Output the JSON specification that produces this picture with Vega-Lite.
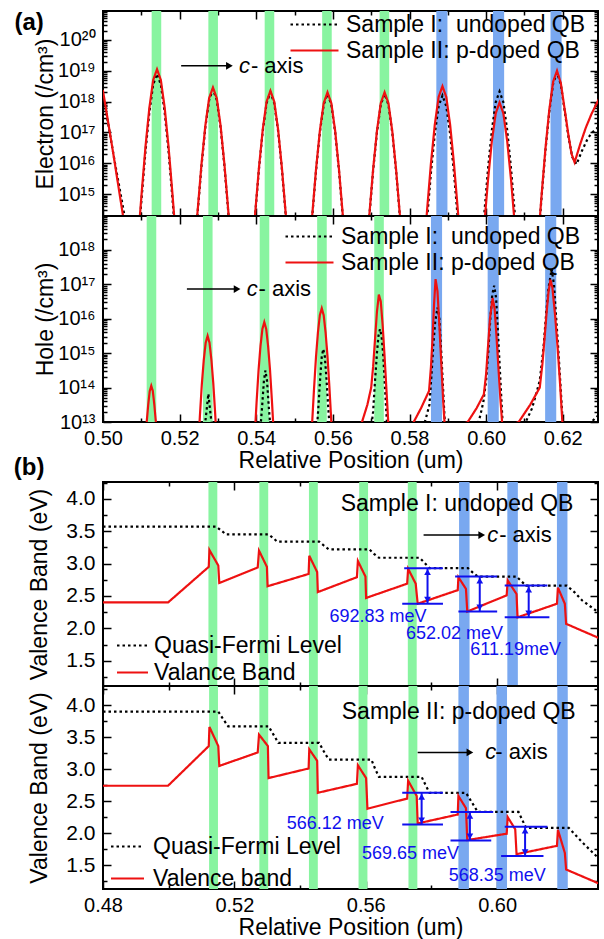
{
"$schema": "https://vega.github.io/schema/vega-lite/v6.json",
"padding": {"left": 12, "top": 9, "right": 2, "bottom": 0},
"config": {
  "font": "Liberation Sans",
  "view": {"stroke": "#000", "strokeWidth": 2},
  "axis": {"domain": false, "grid": false, "labelFont": "Liberation Sans", "labelFontSize": 20, "labelColor": "#000", "titleFont": "Liberation Sans", "titleFontSize": 23, "titleFontWeight": "normal", "titleColor": "#000", "tickColor": "#000", "tickWidth": 1.5, "labelFlush": false, "labelOverlap": false},
  "legend": {"labelFont": "Liberation Sans", "labelColor": "#000", "labelLimit": 400}
},
"datasets": {
  "bars": [
    {"p":"e","k":"g","x1":0.5127,"x2":0.5152},{"p":"e","k":"g","x1":0.5275,"x2":0.5300},{"p":"e","k":"g","x1":0.5422,"x2":0.5447},{"p":"e","k":"g","x1":0.5572,"x2":0.5597},{"p":"e","k":"g","x1":0.5722,"x2":0.5747},
    {"p":"e","k":"b","x1":0.5870,"x2":0.5899},{"p":"e","k":"b","x1":0.6018,"x2":0.6047},{"p":"e","k":"b","x1":0.6168,"x2":0.6197},
    {"p":"h","k":"g","x1":0.5114,"x2":0.5139},{"p":"h","k":"g","x1":0.5261,"x2":0.5286},{"p":"h","k":"g","x1":0.5409,"x2":0.5434},{"p":"h","k":"g","x1":0.5559,"x2":0.5584},{"p":"h","k":"g","x1":0.5708,"x2":0.5733},
    {"p":"h","k":"b","x1":0.5856,"x2":0.5885},{"p":"h","k":"b","x1":0.6004,"x2":0.6033},{"p":"h","k":"b","x1":0.6154,"x2":0.6183},
    {"p":"t","k":"g","x1":0.5121,"x2":0.5148},{"p":"t","k":"g","x1":0.5276,"x2":0.5303},{"p":"t","k":"g","x1":0.5427,"x2":0.5454},{"p":"t","k":"g","x1":0.5580,"x2":0.5607},{"p":"t","k":"g","x1":0.5728,"x2":0.5755},
    {"p":"t","k":"b","x1":0.5884,"x2":0.5916},{"p":"t","k":"b","x1":0.6031,"x2":0.6063},{"p":"t","k":"b","x1":0.6182,"x2":0.6214},
    {"p":"b","k":"g","x1":0.5123,"x2":0.5150},{"p":"b","k":"g","x1":0.5276,"x2":0.5303},{"p":"b","k":"g","x1":0.5427,"x2":0.5454},{"p":"b","k":"g","x1":0.5578,"x2":0.5605},{"p":"b","k":"g","x1":0.5730,"x2":0.5757},
    {"p":"b","k":"b","x1":0.5882,"x2":0.5914},{"p":"b","k":"b","x1":0.5998,"x2":0.6030},{"p":"b","k":"b","x1":0.6183,"x2":0.6215}
  ],
  "arrows": [
    {"p":"e","x1":0.5204,"x2":0.5330,"y":1.45e19},
    {"p":"h","x1":0.5219,"x2":0.5350,"y":7.24e16},
    {"p":"t","x1":0.5776,"x2":0.5953,"y":3.44},
    {"p":"b","x1":0.5758,"x2":0.5917,"y":3.26}
  ],
  "txt": [
    {"p":"e","k":"c","x":0.5355,"y":1.45e19,"t":"c"},
    {"p":"e","k":"ax","x":0.5386,"y":1.45e19,"t":"- axis"},
    {"p":"e","k":"lab","x":0.4807,"y":3.55e20,"t":"(a)"},
    {"p":"h","k":"c","x":0.5375,"y":7.24e16,"t":"c"},
    {"p":"h","k":"ax","x":0.5406,"y":7.24e16,"t":"- axis"},
    {"p":"t","k":"c","x":0.5970,"y":3.44,"t":"c"},
    {"p":"t","k":"ax","x":0.6006,"y":3.44,"t":"- axis"},
    {"p":"t","k":"lab","x":0.4575,"y":4.48,"t":"(b)"},
    {"p":"t","k":"smp","x":0.5878,"y":3.92,"t":"Sample I: undoped QB"},
    {"p":"t","k":"mev","x":0.5637,"y":2.17,"t":"692.83 meV"},
    {"p":"t","k":"mev","x":0.5870,"y":1.92,"t":"652.02 meV"},
    {"p":"t","k":"mev","x":0.6056,"y":1.66,"t":"611.19meV"},
    {"p":"b","k":"c","x":0.5964,"y":3.26,"t":"c"},
    {"p":"b","k":"ax","x":0.5994,"y":3.26,"t":"- axis"},
    {"p":"b","k":"smp","x":0.5883,"y":3.90,"t":"Sample II: p-doped QB"},
    {"p":"b","k":"mev","x":0.5507,"y":2.135,"t":"566.12 meV"},
    {"p":"b","k":"mev","x":0.5736,"y":1.67,"t":"569.65 meV"},
    {"p":"b","k":"mev","x":0.6000,"y":1.33,"t":"568.35 meV"}
  ],
  "hl": [
    {"p":"t","x1":0.5717,"x2":0.5835,"y":2.93},{"p":"t","x1":0.5711,"x2":0.5835,"y":2.38},
    {"p":"t","x1":0.5872,"x2":0.6000,"y":2.80},{"p":"t","x1":0.5882,"x2":0.6000,"y":2.26},
    {"p":"t","x1":0.6023,"x2":0.6153,"y":2.66},{"p":"t","x1":0.6023,"x2":0.6159,"y":2.17},
    {"p":"b","x1":0.5711,"x2":0.5835,"y":2.63},{"p":"b","x1":0.5711,"x2":0.5835,"y":2.135},
    {"p":"b","x1":0.5858,"x2":0.5988,"y":2.33},{"p":"b","x1":0.5858,"x2":0.5982,"y":1.885},
    {"p":"b","x1":0.6023,"x2":0.6153,"y":2.10},{"p":"b","x1":0.6012,"x2":0.6141,"y":1.64}
  ],
  "va": [
    {"p":"t","x":0.5788,"y":2.93,"y2":2.38},{"p":"t","x":0.5947,"y":2.80,"y2":2.26},{"p":"t","x":0.6096,"y":2.66,"y2":2.17},
    {"p":"b","x":0.5770,"y":2.63,"y2":2.135},{"p":"b","x":0.5917,"y":2.33,"y2":1.885},{"p":"b","x":0.6085,"y":2.10,"y2":1.64}
  ],
  "vh": [
    {"p":"t","d":"up","x":0.5788,"y":2.93},{"p":"t","d":"dn","x":0.5788,"y":2.38},
    {"p":"t","d":"up","x":0.5947,"y":2.80},{"p":"t","d":"dn","x":0.5947,"y":2.26},
    {"p":"t","d":"up","x":0.6096,"y":2.66},{"p":"t","d":"dn","x":0.6096,"y":2.17},
    {"p":"b","d":"up","x":0.5770,"y":2.63},{"p":"b","d":"dn","x":0.5770,"y":2.135},
    {"p":"b","d":"up","x":0.5917,"y":2.33},{"p":"b","d":"dn","x":0.5917,"y":1.885},
    {"p":"b","d":"up","x":0.6085,"y":2.10},{"p":"b","d":"dn","x":0.6085,"y":1.64}
  ],
  "eLines": [
    {"s":"I","x":0.4995,"y":2.0e18},{"s":"I","x":0.5,"y":1.78e18},{"s":"I","x":0.503,"y":1.26e16},{"s":"I","x":0.5062,"y":7.94e13},
    {"s":"I","x":0.5091,"y":2e13},{"s":"I","x":0.5101,"y":7.94e14},{"s":"I","x":0.5111,"y":2.51e16},{"s":"I","x":0.5121,"y":4.47e17},{"s":"I","x":0.5131,"y":3.55e18},{"s":"I","x":0.5141,"y":7.94e18},{"s":"I","x":0.5151,"y":3.55e18},{"s":"I","x":0.5161,"y":4.47e17},{"s":"I","x":0.5171,"y":2.51e16},{"s":"I","x":0.5181,"y":7.94e14},{"s":"I","x":0.5191,"y":2e13},
    {"s":"I","x":0.5237,"y":6.31e12},{"s":"I","x":0.5247,"y":2.51e14},{"s":"I","x":0.5257,"y":7.94e15},{"s":"I","x":0.5267,"y":1.41e17},{"s":"I","x":0.5277,"y":1.12e18},{"s":"I","x":0.5287,"y":2.51e18},{"s":"I","x":0.5297,"y":1.12e18},{"s":"I","x":0.5307,"y":1.41e17},{"s":"I","x":0.5317,"y":7.94e15},{"s":"I","x":0.5327,"y":2.51e14},{"s":"I","x":0.5337,"y":6.31e12},
    {"s":"I","x":0.5387,"y":5.01e12},{"s":"I","x":0.5397,"y":2e14},{"s":"I","x":0.5407,"y":6.31e15},{"s":"I","x":0.5417,"y":1.12e17},{"s":"I","x":0.5427,"y":8.91e17},{"s":"I","x":0.5437,"y":2e18},{"s":"I","x":0.5447,"y":8.91e17},{"s":"I","x":0.5457,"y":1.12e17},{"s":"I","x":0.5467,"y":6.31e15},{"s":"I","x":0.5477,"y":2e14},{"s":"I","x":0.5487,"y":5.01e12},
    {"s":"I","x":0.5536,"y":4.47e12},{"s":"I","x":0.5546,"y":1.78e14},{"s":"I","x":0.5556,"y":5.62e15},{"s":"I","x":0.5566,"y":1e17},{"s":"I","x":0.5576,"y":7.94e17},{"s":"I","x":0.5586,"y":1.78e18},{"s":"I","x":0.5596,"y":7.94e17},{"s":"I","x":0.5606,"y":1e17},{"s":"I","x":0.5616,"y":5.62e15},{"s":"I","x":0.5626,"y":1.78e14},{"s":"I","x":0.5636,"y":4.47e12},
    {"s":"I","x":0.5685,"y":4.47e12},{"s":"I","x":0.5695,"y":1.78e14},{"s":"I","x":0.5705,"y":5.62e15},{"s":"I","x":0.5715,"y":1e17},{"s":"I","x":0.5725,"y":7.94e17},{"s":"I","x":0.5735,"y":1.78e18},{"s":"I","x":0.5745,"y":7.94e17},{"s":"I","x":0.5755,"y":1e17},{"s":"I","x":0.5765,"y":5.62e15},{"s":"I","x":0.5775,"y":1.78e14},{"s":"I","x":0.5785,"y":4.47e12},
    {"s":"I","x":0.5836,"y":3.98e12},{"s":"I","x":0.5846,"y":1.58e14},{"s":"I","x":0.5856,"y":5.01e15},{"s":"I","x":0.5866,"y":8.91e16},{"s":"I","x":0.5876,"y":7.08e17},{"s":"I","x":0.5886,"y":1.58e18},{"s":"I","x":0.5896,"y":7.08e17},{"s":"I","x":0.5906,"y":8.91e16},{"s":"I","x":0.5916,"y":5.01e15},{"s":"I","x":0.5926,"y":1.58e14},{"s":"I","x":0.5936,"y":3.98e12},
    {"s":"I","x":0.5985,"y":5.37e12},{"s":"I","x":0.5995,"y":2.14e14},{"s":"I","x":0.6005,"y":6.76e15},{"s":"I","x":0.6015,"y":1.2e17},{"s":"I","x":0.6025,"y":9.55e17},{"s":"I","x":0.6035,"y":2.14e18},{"s":"I","x":0.6045,"y":9.55e17},{"s":"I","x":0.6055,"y":1.2e17},{"s":"I","x":0.6065,"y":6.76e15},{"s":"I","x":0.6075,"y":2.14e14},{"s":"I","x":0.6085,"y":5.37e12},
    {"s":"I","x":0.6135,"y":2.19e13},{"s":"I","x":0.6145,"y":8.71e14},{"s":"I","x":0.6155,"y":2.75e16},{"s":"I","x":0.6165,"y":4.9e17},{"s":"I","x":0.6175,"y":3.89e18},{"s":"I","x":0.6185,"y":8.71e18},{"s":"I","x":0.6195,"y":3.55e18},{"s":"I","x":0.6205,"y":5.01e17},{"s":"I","x":0.6215,"y":7.08e16},{"s":"I","x":0.6225,"y":1.58e16},{"s":"I","x":0.6236,"y":9.33e15},{"s":"I","x":0.625,"y":2.51e16},{"s":"I","x":0.6265,"y":6.31e16},{"s":"I","x":0.6277,"y":1e17},{"s":"I","x":0.6295,"y":1.58e17},
    {"s":"II","x":0.4995,"y":2.51e18},{"s":"II","x":0.5,"y":2.24e18},{"s":"II","x":0.5027,"y":2e16},{"s":"II","x":0.5056,"y":1e14},
    {"s":"II","x":0.5091,"y":2.82e13},{"s":"II","x":0.5101,"y":1.12e15},{"s":"II","x":0.5111,"y":3.55e16},{"s":"II","x":0.5121,"y":6.31e17},{"s":"II","x":0.5131,"y":5.01e18},{"s":"II","x":0.5141,"y":1.12e19},{"s":"II","x":0.5151,"y":5.01e18},{"s":"II","x":0.5161,"y":6.31e17},{"s":"II","x":0.5171,"y":3.55e16},{"s":"II","x":0.5181,"y":1.12e15},{"s":"II","x":0.5191,"y":2.82e13},
    {"s":"II","x":0.5237,"y":7.24e12},{"s":"II","x":0.5247,"y":2.88e14},{"s":"II","x":0.5257,"y":9.12e15},{"s":"II","x":0.5267,"y":1.62e17},{"s":"II","x":0.5277,"y":1.29e18},{"s":"II","x":0.5287,"y":2.88e18},{"s":"II","x":0.5297,"y":1.29e18},{"s":"II","x":0.5307,"y":1.62e17},{"s":"II","x":0.5317,"y":9.12e15},{"s":"II","x":0.5327,"y":2.88e14},{"s":"II","x":0.5337,"y":7.24e12},
    {"s":"II","x":0.5387,"y":5.62e12},{"s":"II","x":0.5397,"y":2.24e14},{"s":"II","x":0.5407,"y":7.08e15},{"s":"II","x":0.5417,"y":1.26e17},{"s":"II","x":0.5427,"y":1e18},{"s":"II","x":0.5437,"y":2.24e18},{"s":"II","x":0.5447,"y":1e18},{"s":"II","x":0.5457,"y":1.26e17},{"s":"II","x":0.5467,"y":7.08e15},{"s":"II","x":0.5477,"y":2.24e14},{"s":"II","x":0.5487,"y":5.62e12},
    {"s":"II","x":0.5536,"y":5.01e12},{"s":"II","x":0.5546,"y":2e14},{"s":"II","x":0.5556,"y":6.31e15},{"s":"II","x":0.5566,"y":1.12e17},{"s":"II","x":0.5576,"y":8.91e17},{"s":"II","x":0.5586,"y":2e18},{"s":"II","x":0.5596,"y":8.91e17},{"s":"II","x":0.5606,"y":1.12e17},{"s":"II","x":0.5616,"y":6.31e15},{"s":"II","x":0.5626,"y":2e14},{"s":"II","x":0.5636,"y":5.01e12},
    {"s":"II","x":0.5685,"y":5.01e12},{"s":"II","x":0.5695,"y":2e14},{"s":"II","x":0.5705,"y":6.31e15},{"s":"II","x":0.5715,"y":1.12e17},{"s":"II","x":0.5725,"y":8.91e17},{"s":"II","x":0.5735,"y":2e18},{"s":"II","x":0.5745,"y":8.91e17},{"s":"II","x":0.5755,"y":1.12e17},{"s":"II","x":0.5765,"y":6.31e15},{"s":"II","x":0.5775,"y":2e14},{"s":"II","x":0.5785,"y":5.01e12},
    {"s":"II","x":0.5836,"y":7.94e12},{"s":"II","x":0.5846,"y":3.16e14},{"s":"II","x":0.5856,"y":1e16},{"s":"II","x":0.5866,"y":1.78e17},{"s":"II","x":0.5876,"y":1.41e18},{"s":"II","x":0.5886,"y":3.16e18},{"s":"II","x":0.5896,"y":1.41e18},{"s":"II","x":0.5906,"y":1.78e17},{"s":"II","x":0.5916,"y":1e16},{"s":"II","x":0.5926,"y":3.16e14},{"s":"II","x":0.5936,"y":7.94e12},
    {"s":"II","x":0.5985,"y":2.34e12},{"s":"II","x":0.5995,"y":9.33e13},{"s":"II","x":0.6005,"y":2.95e15},{"s":"II","x":0.6015,"y":5.25e16},{"s":"II","x":0.6025,"y":4.17e17},{"s":"II","x":0.6035,"y":9.33e17},{"s":"II","x":0.6045,"y":4.17e17},{"s":"II","x":0.6055,"y":5.25e16},{"s":"II","x":0.6065,"y":2.95e15},{"s":"II","x":0.6075,"y":9.33e13},{"s":"II","x":0.6085,"y":2.34e12},
    {"s":"II","x":0.6135,"y":2.51e13},{"s":"II","x":0.6145,"y":1e15},{"s":"II","x":0.6155,"y":3.16e16},{"s":"II","x":0.6165,"y":5.62e17},{"s":"II","x":0.6175,"y":4.47e18},{"s":"II","x":0.6185,"y":1e19},{"s":"II","x":0.6195,"y":3.98e18},{"s":"II","x":0.6205,"y":5.62e17},{"s":"II","x":0.6215,"y":7.94e16},{"s":"II","x":0.6223,"y":2e16},{"s":"II","x":0.6231,"y":1.07e16},{"s":"II","x":0.6245,"y":3.98e16},{"s":"II","x":0.626,"y":1.41e17},{"s":"II","x":0.6275,"y":3.98e17},{"s":"II","x":0.6295,"y":1.26e18}
  ],
  "hLines": [
    {"s":"I","x":0.4995,"y":1e12},
    {"s":"I","x":0.5265,"y":6.31e12},{"s":"I","x":0.527,"y":2e13},{"s":"I","x":0.5275,"y":6.61e13},{"s":"I","x":0.528,"y":2e13},{"s":"I","x":0.5285,"y":6.31e12},
    {"s":"I","x":0.541,"y":5.01e12},{"s":"I","x":0.5415,"y":2.51e13},{"s":"I","x":0.542,"y":1.58e14},{"s":"I","x":0.5424,"y":3.16e14},{"s":"I","x":0.5428,"y":1.58e14},{"s":"I","x":0.5433,"y":2.51e13},{"s":"I","x":0.5438,"y":5.01e12},
    {"s":"I","x":0.5557,"y":3.98e12},{"s":"I","x":0.5562,"y":2.51e13},{"s":"I","x":0.5567,"y":2e14},{"s":"I","x":0.5571,"y":7.94e14},{"s":"I","x":0.5575,"y":1.32e15},{"s":"I","x":0.5579,"y":7.94e14},{"s":"I","x":0.5583,"y":2e14},{"s":"I","x":0.5588,"y":2.51e13},{"s":"I","x":0.5593,"y":3.98e12},
    {"s":"I","x":0.57,"y":6.31e12},{"s":"I","x":0.5705,"y":2e13},{"s":"I","x":0.571,"y":1.58e14},{"s":"I","x":0.5715,"y":1e15},{"s":"I","x":0.5719,"y":3.16e15},{"s":"I","x":0.5723,"y":5.01e15},{"s":"I","x":0.5727,"y":3.16e15},{"s":"I","x":0.5731,"y":1e15},{"s":"I","x":0.5736,"y":1e14},{"s":"I","x":0.5741,"y":1e13},{"s":"I","x":0.5746,"y":2e12},
    {"s":"I","x":0.5835,"y":6.31e12},{"s":"I","x":0.5845,"y":1.58e13},{"s":"I","x":0.5852,"y":3.16e13},{"s":"I","x":0.5857,"y":2e14},{"s":"I","x":0.5862,"y":1.58e15},{"s":"I","x":0.5867,"y":7.94e15},{"s":"I","x":0.5873,"y":2.14e16},{"s":"I","x":0.5878,"y":1e16},{"s":"I","x":0.5883,"y":1e15},{"s":"I","x":0.5888,"y":7.94e13},{"s":"I","x":0.5893,"y":6.31e12},
    {"s":"I","x":0.5975,"y":6.31e12},{"s":"I","x":0.5985,"y":1.58e13},{"s":"I","x":0.5993,"y":3.98e13},{"s":"I","x":0.6,"y":1.58e14},{"s":"I","x":0.6006,"y":1.26e15},{"s":"I","x":0.6011,"y":1e16},{"s":"I","x":0.6016,"y":5.01e16},{"s":"I","x":0.6021,"y":9.12e16},{"s":"I","x":0.6026,"y":3.98e16},{"s":"I","x":0.6031,"y":3.98e15},{"s":"I","x":0.6036,"y":3.16e14},{"s":"I","x":0.6041,"y":2.51e13},{"s":"I","x":0.6045,"y":3.98e12},
    {"s":"I","x":0.6095,"y":6.31e12},{"s":"I","x":0.612,"y":2.51e13},{"s":"I","x":0.614,"y":1.58e14},{"s":"I","x":0.615,"y":1.58e15},{"s":"I","x":0.6157,"y":1.58e16},{"s":"I","x":0.6163,"y":7.94e16},{"s":"I","x":0.6171,"y":2.75e17},{"s":"I","x":0.6177,"y":1e17},{"s":"I","x":0.6183,"y":1e16},{"s":"I","x":0.6189,"y":1e15},{"s":"I","x":0.6195,"y":7.94e13},{"s":"I","x":0.6201,"y":6.31e12},
    {"s":"I","x":0.625,"y":3.16e12},{"s":"I","x":0.6275,"y":1e13},{"s":"I","x":0.6295,"y":1.66e13},
    {"s":"II","x":0.4995,"y":1e12},
    {"s":"II","x":0.511,"y":3.98e12},{"s":"II","x":0.5114,"y":1e13},{"s":"II","x":0.5118,"y":3.16e13},{"s":"II","x":0.5122,"y":7.94e13},{"s":"II","x":0.5126,"y":1.12e14},{"s":"II","x":0.513,"y":7.94e13},{"s":"II","x":0.5134,"y":3.16e13},{"s":"II","x":0.5138,"y":1e13},{"s":"II","x":0.5142,"y":3.98e12},
    {"s":"II","x":0.5248,"y":1.58e12},{"s":"II","x":0.5253,"y":1.58e13},{"s":"II","x":0.5258,"y":1.26e14},{"s":"II","x":0.5263,"y":6.31e14},{"s":"II","x":0.5268,"y":2e15},{"s":"II","x":0.5273,"y":3.16e15},{"s":"II","x":0.5278,"y":2e15},{"s":"II","x":0.5283,"y":6.31e14},{"s":"II","x":0.5288,"y":1.26e14},{"s":"II","x":0.5293,"y":1.58e13},{"s":"II","x":0.5298,"y":1.58e12},
    {"s":"II","x":0.5396,"y":3.98e12},{"s":"II","x":0.5401,"y":3.98e13},{"s":"II","x":0.5406,"y":3.16e14},{"s":"II","x":0.5411,"y":1.58e15},{"s":"II","x":0.5416,"y":5.01e15},{"s":"II","x":0.5421,"y":7.94e15},{"s":"II","x":0.5426,"y":5.01e15},{"s":"II","x":0.5431,"y":1.58e15},{"s":"II","x":0.5436,"y":3.16e14},{"s":"II","x":0.5441,"y":3.98e13},{"s":"II","x":0.5446,"y":3.98e12},
    {"s":"II","x":0.5541,"y":1e12},{"s":"II","x":0.5546,"y":1e13},{"s":"II","x":0.5551,"y":1e14},{"s":"II","x":0.5556,"y":7.94e14},{"s":"II","x":0.5561,"y":3.98e15},{"s":"II","x":0.5566,"y":1.26e16},{"s":"II","x":0.5571,"y":2e16},{"s":"II","x":0.5576,"y":1.26e16},{"s":"II","x":0.5581,"y":3.98e15},{"s":"II","x":0.5586,"y":7.94e14},{"s":"II","x":0.5591,"y":1e14},{"s":"II","x":0.5596,"y":1e13},{"s":"II","x":0.5601,"y":1e12},
    {"s":"II","x":0.5676,"y":1e13},{"s":"II","x":0.569,"y":3.16e13},{"s":"II","x":0.57,"y":1e14},{"s":"II","x":0.5705,"y":3.98e14},{"s":"II","x":0.571,"y":2.51e15},{"s":"II","x":0.5715,"y":1.58e16},{"s":"II","x":0.572,"y":5.01e16},{"s":"II","x":0.5725,"y":3.16e16},{"s":"II","x":0.573,"y":6.31e15},{"s":"II","x":0.5735,"y":7.94e14},{"s":"II","x":0.574,"y":7.94e13},{"s":"II","x":0.5745,"y":7.94e12},{"s":"II","x":0.575,"y":1e12},
    {"s":"II","x":0.5811,"y":1e13},{"s":"II","x":0.583,"y":2.51e13},{"s":"II","x":0.5851,"y":7.94e13},{"s":"II","x":0.5856,"y":3.98e14},{"s":"II","x":0.586,"y":2.51e15},{"s":"II","x":0.5864,"y":2.51e16},{"s":"II","x":0.5868,"y":1.41e17},{"s":"II","x":0.5873,"y":6.31e16},{"s":"II","x":0.5878,"y":6.31e15},{"s":"II","x":0.5883,"y":5.01e14},{"s":"II","x":0.5888,"y":3.98e13},{"s":"II","x":0.5893,"y":5.01e12},
    {"s":"II","x":0.5952,"y":1e13},{"s":"II","x":0.5975,"y":2.51e13},{"s":"II","x":0.5994,"y":6.31e13},{"s":"II","x":0.6,"y":2.51e14},{"s":"II","x":0.6005,"y":1.58e15},{"s":"II","x":0.601,"y":1e16},{"s":"II","x":0.6017,"y":3.98e16},{"s":"II","x":0.6022,"y":2e16},{"s":"II","x":0.6027,"y":3.16e15},{"s":"II","x":0.6032,"y":3.98e14},{"s":"II","x":0.6037,"y":5.01e13},{"s":"II","x":0.6043,"y":6.31e12},
    {"s":"II","x":0.6085,"y":1e13},{"s":"II","x":0.6115,"y":3.16e13},{"s":"II","x":0.614,"y":1e14},{"s":"II","x":0.6147,"y":5.01e14},{"s":"II","x":0.6153,"y":3.16e15},{"s":"II","x":0.6158,"y":1.58e16},{"s":"II","x":0.6163,"y":6.31e16},{"s":"II","x":0.6168,"y":1.35e17},{"s":"II","x":0.6173,"y":7.94e16},{"s":"II","x":0.618,"y":1.26e16},{"s":"II","x":0.6187,"y":1.26e15},{"s":"II","x":0.6193,"y":1.26e14},{"s":"II","x":0.6199,"y":1e13},{"s":"II","x":0.6203,"y":2.51e12},{"s":"II","x":0.6295,"y":1e12}
  ],
  "btLines": [
    {"s":"Q","x":0.48,"y":3.57},{"s":"Q","x":0.5145,"y":3.57},{"s":"Q","x":0.516,"y":3.51},{"s":"Q","x":0.5175,"y":3.45},{"s":"Q","x":0.5304,"y":3.45},{"s":"Q","x":0.5317,"y":3.40},{"s":"Q","x":0.533,"y":3.34},{"s":"Q","x":0.5458,"y":3.34},{"s":"Q","x":0.5472,"y":3.28},{"s":"Q","x":0.5487,"y":3.22},{"s":"Q","x":0.5611,"y":3.22},{"s":"Q","x":0.5625,"y":3.15},{"s":"Q","x":0.564,"y":3.09},{"s":"Q","x":0.5764,"y":3.09},{"s":"Q","x":0.5779,"y":3.01},{"s":"Q","x":0.5794,"y":2.93},{"s":"Q","x":0.5911,"y":2.93},{"s":"Q","x":0.5926,"y":2.86},{"s":"Q","x":0.5941,"y":2.80},{"s":"Q","x":0.6059,"y":2.80},{"s":"Q","x":0.6073,"y":2.73},{"s":"Q","x":0.6088,"y":2.66},{"s":"Q","x":0.6212,"y":2.66},{"s":"Q","x":0.6235,"y":2.56},{"s":"Q","x":0.6259,"y":2.43},{"s":"Q","x":0.631,"y":2.24},
    {"s":"V","x":0.48,"y":2.40},{"s":"V","x":0.4998,"y":2.40},{"s":"V","x":0.5122,"y":2.95},{"s":"V","x":0.5124,"y":3.21},{"s":"V","x":0.5151,"y":2.97},{"s":"V","x":0.5154,"y":2.70},{"s":"V","x":0.5271,"y":2.94},{"s":"V","x":0.5275,"y":3.20},{"s":"V","x":0.5299,"y":2.95},{"s":"V","x":0.5301,"y":2.65},{"s":"V","x":0.5426,"y":2.84},{"s":"V","x":0.5428,"y":3.12},{"s":"V","x":0.5452,"y":2.87},{"s":"V","x":0.5454,"y":2.56},{"s":"V","x":0.5573,"y":2.79},{"s":"V","x":0.5576,"y":3.04},{"s":"V","x":0.5599,"y":2.80},{"s":"V","x":0.5601,"y":2.47},{"s":"V","x":0.5726,"y":2.69},{"s":"V","x":0.5729,"y":2.92},{"s":"V","x":0.5752,"y":2.69},{"s":"V","x":0.5758,"y":2.38},{"s":"V","x":0.588,"y":2.59},{"s":"V","x":0.5882,"y":2.79},{"s":"V","x":0.5905,"y":2.61},{"s":"V","x":0.5909,"y":2.26},{"s":"V","x":0.6029,"y":2.51},{"s":"V","x":0.6032,"y":2.74},{"s":"V","x":0.6059,"y":2.53},{"s":"V","x":0.6062,"y":2.17},{"s":"V","x":0.6182,"y":2.38},{"s":"V","x":0.6185,"y":2.63},{"s":"V","x":0.6206,"y":2.38},{"s":"V","x":0.621,"y":2.07},{"s":"V","x":0.631,"y":1.85}
  ],
  "bbLines": [
    {"s":"Q","x":0.48,"y":3.90},{"s":"Q","x":0.5151,"y":3.90},{"s":"Q","x":0.5166,"y":3.78},{"s":"Q","x":0.5181,"y":3.67},{"s":"Q","x":0.5304,"y":3.67},{"s":"Q","x":0.5319,"y":3.54},{"s":"Q","x":0.5334,"y":3.41},{"s":"Q","x":0.5458,"y":3.41},{"s":"Q","x":0.5472,"y":3.28},{"s":"Q","x":0.5487,"y":3.15},{"s":"Q","x":0.5617,"y":3.15},{"s":"Q","x":0.5628,"y":3.01},{"s":"Q","x":0.564,"y":2.88},{"s":"Q","x":0.577,"y":2.88},{"s":"Q","x":0.5782,"y":2.75},{"s":"Q","x":0.5794,"y":2.63},{"s":"Q","x":0.5905,"y":2.63},{"s":"Q","x":0.5923,"y":2.48},{"s":"Q","x":0.5941,"y":2.33},{"s":"Q","x":0.6065,"y":2.33},{"s":"Q","x":0.6077,"y":2.20},{"s":"Q","x":0.6088,"y":2.08},{"s":"Q","x":0.6218,"y":2.08},{"s":"Q","x":0.626,"y":1.85},{"s":"Q","x":0.631,"y":1.60},
    {"s":"V","x":0.48,"y":2.74},{"s":"V","x":0.4998,"y":2.74},{"s":"V","x":0.5122,"y":3.36},{"s":"V","x":0.5124,"y":3.66},{"s":"V","x":0.5151,"y":3.36},{"s":"V","x":0.5154,"y":3.05},{"s":"V","x":0.5271,"y":3.26},{"s":"V","x":0.5275,"y":3.54},{"s":"V","x":0.5302,"y":3.36},{"s":"V","x":0.5304,"y":2.86},{"s":"V","x":0.5426,"y":3.01},{"s":"V","x":0.5428,"y":3.31},{"s":"V","x":0.5452,"y":3.13},{"s":"V","x":0.5454,"y":2.63},{"s":"V","x":0.5573,"y":2.77},{"s":"V","x":0.5576,"y":3.06},{"s":"V","x":0.5601,"y":2.86},{"s":"V","x":0.5605,"y":2.38},{"s":"V","x":0.5726,"y":2.54},{"s":"V","x":0.5729,"y":2.82},{"s":"V","x":0.5755,"y":2.58},{"s":"V","x":0.5758,"y":2.15},{"s":"V","x":0.588,"y":2.29},{"s":"V","x":0.5882,"y":2.58},{"s":"V","x":0.5905,"y":2.39},{"s":"V","x":0.5909,"y":1.89},{"s":"V","x":0.6029,"y":1.99},{"s":"V","x":0.6032,"y":2.25},{"s":"V","x":0.6055,"y":2.06},{"s":"V","x":0.6059,"y":1.67},{"s":"V","x":0.6182,"y":1.80},{"s":"V","x":0.6185,"y":2.05},{"s":"V","x":0.6206,"y":1.69},{"s":"V","x":0.621,"y":1.43},{"s":"V","x":0.631,"y":1.21}
  ]
},
"spacing": 0,
"bounds": "flush",
"resolve": {"scale": {"x": "independent", "y": "independent", "color": "independent", "strokeDash": "independent", "fill": "independent"}},
"vconcat": [
  {
    "width": 495, "height": 205,
    "resolve": {"axis": {"x": "independent", "y": "independent"}},
    "layer": [
      {"data": {"name": "bars"}, "transform": [{"filter": "datum.p=='e'"}], "mark": {"type": "rect"},
       "encoding": {
         "x": {"field": "x1", "type": "quantitative", "scale": {"domain": [0.5, 0.6292], "nice": false, "zero": false},
               "axis": {"orient": "bottom", "title": null, "labels": false, "values": [0.50,0.51,0.52,0.53,0.54,0.55,0.56,0.57,0.58,0.59,0.60,0.61,0.62],
                        "tickSize": {"condition": {"test": "round(datum.value*100)%2==0", "value": -8}, "value": -4}}},
         "x2": {"field": "x2"},
         "fill": {"field": "k", "type": "nominal", "scale": {"domain": ["g","b"], "range": ["#88f4a0","#79a8f0"]}, "legend": null}
       }},
      {"data": {"name": "eLines"}, "mark": {"type": "line", "clip": true, "strokeWidth": 2.2},
       "encoding": {
         "x": {"field": "x", "type": "quantitative", "axis": null},
         "y": {"field": "y", "type": "quantitative", "scale": {"type": "log", "domain": [1.95e14, 8.7e20], "nice": false},
               "axis": {"orient": "left", "title": "Electron (/cm³)", "labelPadding": 16, "titlePadding": 0, "tickSize": -8,
                        "values": [1e15,1e16,1e17,1e18,1e19,1e20],
                        "labelExpr": "['10¹³','10¹⁴','10¹⁵','10¹⁶','10¹⁷','10¹⁸','10¹⁹','10²⁰'][round(log(datum.value)/LN10)-13]"}},
         "color": {"field": "s", "type": "nominal", "scale": {"domain": ["I","II"], "range": ["#000000","#ee1111"]},
                   "legend": {"title": null, "orient": "none", "legendX": 198, "legendY": 0, "padding": 0, "symbolType": "M-2,0H2", "symbolSize": 576, "symbolStrokeWidth": 2.2, "labelFontSize": 23, "labelOffset": 18, "rowPadding": -1, "labelExpr": "datum.label=='I' ? 'Sample I:\u00a0 undoped QB' : 'Sample II: p-doped QB'"}},
         "strokeDash": {"field": "s", "type": "nominal", "scale": {"domain": ["I","II"], "range": [[2.5,3],[1,0]]},
                   "legend": {"title": null, "orient": "none", "legendX": 198, "legendY": 0, "padding": 0, "symbolType": "M-2,0H2", "symbolSize": 576, "symbolStrokeWidth": 2.2, "labelFontSize": 23, "labelOffset": 18, "rowPadding": -1, "labelExpr": "datum.label=='I' ? 'Sample I:\u00a0 undoped QB' : 'Sample II: p-doped QB'"}}
       }},
      {"data": {"name": "arrows"}, "transform": [{"filter": "datum.p=='e'"}], "mark": {"type": "rule", "color": "#000", "strokeWidth": 1.5},
       "encoding": {"x": {"field": "x1", "type": "quantitative",
                          "axis": {"orient": "top", "title": null, "labels": false, "values": [0.50,0.51,0.52,0.53,0.54,0.55,0.56,0.57,0.58,0.59,0.60,0.61,0.62],
                                   "tickSize": {"condition": {"test": "round(datum.value*100)%2==0", "value": -8}, "value": -4}}},
                    "x2": {"field": "x2"},
                    "y": {"field": "y", "type": "quantitative",
                          "axis": {"orient": "right", "title": null, "labels": false,
                                   "values": [2e14,3e14,4e14,5e14,6e14,7e14,8e14,9e14,1e15,2e15,3e15,4e15,5e15,6e15,7e15,8e15,9e15,1e16,2e16,3e16,4e16,5e16,6e16,7e16,8e16,9e16,1e17,2e17,3e17,4e17,5e17,6e17,7e17,8e17,9e17,1e18,2e18,3e18,4e18,5e18,6e18,7e18,8e18,9e18,1e19,2e19,3e19,4e19,5e19,6e19,7e19,8e19,9e19,1e20,2e20,3e20,4e20,5e20,6e20,7e20,8e20],
                                   "tickSize": {"condition": {"test": "abs(log(datum.value)/LN10-round(log(datum.value)/LN10))<0.0001", "value": -8}, "value": -4}}}}},
      {"data": {"name": "arrows"}, "transform": [{"filter": "datum.p=='e'"}], "mark": {"type": "point", "shape": "triangle-right", "filled": true, "color": "#000", "size": 60, "opacity": 1},
       "encoding": {"x": {"field": "x2", "type": "quantitative", "axis": null},
                    "y": {"field": "y", "type": "quantitative",
                          "axis": {"orient": "left", "title": null, "labels": false, "tickSize": -4,
                                   "values": [2e14,3e14,4e14,5e14,6e14,7e14,8e14,9e14,2e15,3e15,4e15,5e15,6e15,7e15,8e15,9e15,2e16,3e16,4e16,5e16,6e16,7e16,8e16,9e16,2e17,3e17,4e17,5e17,6e17,7e17,8e17,9e17,2e18,3e18,4e18,5e18,6e18,7e18,8e18,9e18,2e19,3e19,4e19,5e19,6e19,7e19,8e19,9e19,2e20,3e20,4e20,5e20,6e20,7e20,8e20]}}}},
      {"data": {"name": "txt"}, "transform": [{"filter": "datum.p=='e' && datum.k=='c'"}], "mark": {"type": "text", "fontStyle": "italic", "fontSize": 22, "align": "left", "baseline": "middle", "color": "#000"},
       "encoding": {"x": {"field": "x", "type": "quantitative", "axis": null}, "y": {"field": "y", "type": "quantitative", "axis": null}, "text": {"field": "t"}}},
      {"data": {"name": "txt"}, "transform": [{"filter": "datum.p=='e' && datum.k=='ax'"}], "mark": {"type": "text", "fontSize": 22, "align": "left", "baseline": "middle", "color": "#000"},
       "encoding": {"x": {"field": "x", "type": "quantitative", "axis": null}, "y": {"field": "y", "type": "quantitative", "axis": null}, "text": {"field": "t"}}},
      {"data": {"name": "txt"}, "transform": [{"filter": "datum.p=='e' && datum.k=='lab'"}], "mark": {"type": "text", "fontSize": 24, "fontWeight": "bold", "align": "center", "baseline": "middle", "color": "#000"},
       "encoding": {"x": {"field": "x", "type": "quantitative", "axis": null}, "y": {"field": "y", "type": "quantitative", "axis": null}, "text": {"field": "t"}}}
    ]
  },
  {
    "width": 495, "height": 206,
    "resolve": {"axis": {"x": "independent", "y": "independent"}},
    "layer": [
      {"data": {"name": "bars"}, "transform": [{"filter": "datum.p=='h'"}], "mark": {"type": "rect"},
       "encoding": {
         "x": {"field": "x1", "type": "quantitative", "scale": {"domain": [0.5, 0.6292], "nice": false, "zero": false},
               "axis": {"orient": "bottom", "title": "Relative Position (um)", "values": [0.50,0.51,0.52,0.53,0.54,0.55,0.56,0.57,0.58,0.59,0.60,0.61,0.62],
                        "labelExpr": "round(datum.value*100)%2==0 ? format(datum.value,'.2f') : ''", "labelPadding": 14, "titlePadding": -3,
                        "tickSize": {"condition": {"test": "round(datum.value*100)%2==0", "value": -8}, "value": -4}}},
         "x2": {"field": "x2"},
         "fill": {"field": "k", "type": "nominal", "scale": {"domain": ["g","b"], "range": ["#88f4a0","#79a8f0"]}, "legend": null}
       }},
      {"data": {"name": "hLines"}, "mark": {"type": "line", "clip": true, "strokeWidth": 2.2},
       "encoding": {
         "x": {"field": "x", "type": "quantitative", "axis": null},
         "y": {"field": "y", "type": "quantitative", "scale": {"type": "log", "domain": [1e13, 9.6e18], "nice": false},
               "axis": {"orient": "left", "title": "Hole (/cm³)", "labelPadding": 16, "titlePadding": 0, "tickSize": -8,
                        "values": [1e13,1e14,1e15,1e16,1e17,1e18],
                        "labelExpr": "['10¹³','10¹⁴','10¹⁵','10¹⁶','10¹⁷','10¹⁸','10¹⁹','10²⁰'][round(log(datum.value)/LN10)-13]"}},
         "color": {"field": "s", "type": "nominal", "scale": {"domain": ["I","II"], "range": ["#000000","#ee1111"]},
                   "legend": {"title": null, "orient": "none", "legendX": 193, "legendY": 7, "padding": 0, "symbolType": "M-2,0H2", "symbolSize": 576, "symbolStrokeWidth": 2.2, "labelFontSize": 23, "labelOffset": 18, "rowPadding": -1, "labelExpr": "datum.label=='I' ? 'Sample I:\u00a0 undoped QB' : 'Sample II: p-doped QB'"}},
         "strokeDash": {"field": "s", "type": "nominal", "scale": {"domain": ["I","II"], "range": [[2.5,3],[1,0]]},
                   "legend": {"title": null, "orient": "none", "legendX": 193, "legendY": 7, "padding": 0, "symbolType": "M-2,0H2", "symbolSize": 576, "symbolStrokeWidth": 2.2, "labelFontSize": 23, "labelOffset": 18, "rowPadding": -1, "labelExpr": "datum.label=='I' ? 'Sample I:\u00a0 undoped QB' : 'Sample II: p-doped QB'"}}
       }},
      {"data": {"name": "arrows"}, "transform": [{"filter": "datum.p=='h'"}], "mark": {"type": "rule", "color": "#000", "strokeWidth": 1.5},
       "encoding": {"x": {"field": "x1", "type": "quantitative",
                          "axis": {"orient": "top", "title": null, "labels": false, "values": [0.50,0.51,0.52,0.53,0.54,0.55,0.56,0.57,0.58,0.59,0.60,0.61,0.62],
                                   "tickSize": {"condition": {"test": "round(datum.value*100)%2==0", "value": -8}, "value": -4}}},
                    "x2": {"field": "x2"},
                    "y": {"field": "y", "type": "quantitative",
                          "axis": {"orient": "right", "title": null, "labels": false,
                                   "values": [1e13,2e13,3e13,4e13,5e13,6e13,7e13,8e13,9e13,1e14,2e14,3e14,4e14,5e14,6e14,7e14,8e14,9e14,1e15,2e15,3e15,4e15,5e15,6e15,7e15,8e15,9e15,1e16,2e16,3e16,4e16,5e16,6e16,7e16,8e16,9e16,1e17,2e17,3e17,4e17,5e17,6e17,7e17,8e17,9e17,1e18,2e18,3e18,4e18,5e18,6e18,7e18,8e18,9e18],
                                   "tickSize": {"condition": {"test": "abs(log(datum.value)/LN10-round(log(datum.value)/LN10))<0.0001", "value": -8}, "value": -4}}}}},
      {"data": {"name": "arrows"}, "transform": [{"filter": "datum.p=='h'"}], "mark": {"type": "point", "shape": "triangle-right", "filled": true, "color": "#000", "size": 60, "opacity": 1},
       "encoding": {"x": {"field": "x2", "type": "quantitative", "axis": null},
                    "y": {"field": "y", "type": "quantitative",
                          "axis": {"orient": "left", "title": null, "labels": false, "tickSize": -4,
                                   "values": [2e13,3e13,4e13,5e13,6e13,7e13,8e13,9e13,2e14,3e14,4e14,5e14,6e14,7e14,8e14,9e14,2e15,3e15,4e15,5e15,6e15,7e15,8e15,9e15,2e16,3e16,4e16,5e16,6e16,7e16,8e16,9e16,2e17,3e17,4e17,5e17,6e17,7e17,8e17,9e17,2e18,3e18,4e18,5e18,6e18,7e18,8e18,9e18]}}}},
      {"data": {"name": "txt"}, "transform": [{"filter": "datum.p=='h' && datum.k=='c'"}], "mark": {"type": "text", "fontStyle": "italic", "fontSize": 22, "align": "left", "baseline": "middle", "color": "#000"},
       "encoding": {"x": {"field": "x", "type": "quantitative", "axis": null}, "y": {"field": "y", "type": "quantitative", "axis": null}, "text": {"field": "t"}}},
      {"data": {"name": "txt"}, "transform": [{"filter": "datum.p=='h' && datum.k=='ax'"}], "mark": {"type": "text", "fontSize": 22, "align": "left", "baseline": "middle", "color": "#000"},
       "encoding": {"x": {"field": "x", "type": "quantitative", "axis": null}, "y": {"field": "y", "type": "quantitative", "axis": null}, "text": {"field": "t"}}}
    ]
  },
  {
    "width": 495, "height": 60, "view": {"stroke": null},
    "data": {"values": [{}]}, "mark": {"type": "text", "text": ""}
  },
  {
    "width": 495, "height": 204,
    "resolve": {"axis": {"x": "independent", "y": "independent"}},
    "layer": [
      {"data": {"name": "bars"}, "transform": [{"filter": "datum.p=='t'"}], "mark": {"type": "rect"},
       "encoding": {
         "x": {"field": "x1", "type": "quantitative", "scale": {"domain": [0.48, 0.6307], "nice": false, "zero": false},
               "axis": {"orient": "bottom", "title": null, "labels": false, "values": [0.48,0.50,0.52,0.54,0.56,0.58,0.60,0.62],
                        "tickSize": {"condition": {"test": "indexof([0.48,0.52,0.56,0.6], datum.value) >= 0", "value": -8}, "value": -4}}},
         "x2": {"field": "x2"},
         "fill": {"field": "k", "type": "nominal", "scale": {"domain": ["g","b"], "range": ["#88f4a0","#79a8f0"]}, "legend": null}
       }},
      {"data": {"name": "btLines"}, "mark": {"type": "line", "clip": true, "strokeWidth": 2.2},
       "encoding": {
         "x": {"field": "x", "type": "quantitative", "axis": null},
         "y": {"field": "y", "type": "quantitative", "scale": {"domain": [1.11, 4.26], "nice": false, "zero": false},
               "axis": {"orient": "left", "title": "Valence Band (eV)", "labelPadding": 16, "titlePadding": 14, "labelFontSize": 21, "tickSize": -8,
                        "values": [1.5,2.0,2.5,3.0,3.5,4.0], "format": ".1f"}},
         "color": {"field": "s", "type": "nominal", "scale": {"domain": ["Q","V"], "range": ["#000000","#ee1111"]},
                   "legend": {"title": null, "orient": "none", "legendX": 18, "legendY": 152, "padding": 0, "symbolType": "M-2,0H2", "symbolSize": 240, "symbolStrokeWidth": 2.2, "labelFontSize": 23, "labelOffset": 10, "rowPadding": 3, "labelExpr": "datum.label=='Q' ? 'Quasi-Fermi Level' : 'Valance Band'"}},
         "strokeDash": {"field": "s", "type": "nominal", "scale": {"domain": ["Q","V"], "range": [[2.5,3],[1,0]]},
                   "legend": {"title": null, "orient": "none", "legendX": 18, "legendY": 152, "padding": 0, "symbolType": "M-2,0H2", "symbolSize": 240, "symbolStrokeWidth": 2.2, "labelFontSize": 23, "labelOffset": 10, "rowPadding": 3, "labelExpr": "datum.label=='Q' ? 'Quasi-Fermi Level' : 'Valance Band'"}}
       }},
      {"data": {"name": "hl"}, "transform": [{"filter": "datum.p=='t'"}], "mark": {"type": "rule", "color": "#1010ee", "strokeWidth": 2},
       "encoding": {"x": {"field": "x1", "type": "quantitative", "axis": null}, "x2": {"field": "x2"}, "y": {"field": "y", "type": "quantitative", "axis": null}}},
      {"data": {"name": "va"}, "transform": [{"filter": "datum.p=='t'"}], "mark": {"type": "rule", "color": "#1010ee", "strokeWidth": 2},
       "encoding": {"x": {"field": "x", "type": "quantitative", "axis": null}, "y": {"field": "y", "type": "quantitative", "axis": null}, "y2": {"field": "y2"}}},
      {"data": {"name": "vh"}, "transform": [{"filter": "datum.p=='t' && datum.d=='up'"}], "mark": {"type": "point", "shape": "triangle-up", "filled": true, "color": "#1010ee", "size": 45, "opacity": 1, "yOffset": 4},
       "encoding": {"x": {"field": "x", "type": "quantitative", "axis": null}, "y": {"field": "y", "type": "quantitative", "axis": null}}},
      {"data": {"name": "vh"}, "transform": [{"filter": "datum.p=='t' && datum.d=='dn'"}], "mark": {"type": "point", "shape": "triangle-down", "filled": true, "color": "#1010ee", "size": 45, "opacity": 1, "yOffset": -4},
       "encoding": {"x": {"field": "x", "type": "quantitative", "axis": null}, "y": {"field": "y", "type": "quantitative", "axis": null}}},
      {"data": {"name": "arrows"}, "transform": [{"filter": "datum.p=='t'"}], "mark": {"type": "rule", "color": "#000", "strokeWidth": 1.5},
       "encoding": {"x": {"field": "x1", "type": "quantitative",
                          "axis": {"orient": "top", "title": null, "labels": false, "values": [0.48,0.50,0.52,0.54,0.56,0.58,0.60,0.62],
                                   "tickSize": {"condition": {"test": "indexof([0.48,0.52,0.56,0.6], datum.value) >= 0", "value": -8}, "value": -4}}},
                    "x2": {"field": "x2"},
                    "y": {"field": "y", "type": "quantitative",
                          "axis": {"orient": "right", "title": null, "labels": false, "values": [1.25,1.5,1.75,2.0,2.25,2.5,2.75,3.0,3.25,3.5,3.75,4.0,4.25],
                                   "tickSize": {"condition": {"test": "indexof([1.5,2,2.5,3,3.5,4], datum.value) >= 0", "value": -8}, "value": -4}}}}},
      {"data": {"name": "arrows"}, "transform": [{"filter": "datum.p=='t'"}], "mark": {"type": "point", "shape": "triangle-right", "filled": true, "color": "#000", "size": 60, "opacity": 1},
       "encoding": {"x": {"field": "x2", "type": "quantitative", "axis": null},
                    "y": {"field": "y", "type": "quantitative",
                          "axis": {"orient": "left", "title": null, "labels": false, "tickSize": -4, "values": [1.25,1.75,2.25,2.75,3.25,3.75,4.25]}}}},
      {"data": {"name": "txt"}, "transform": [{"filter": "datum.p=='t' && datum.k=='c'"}], "mark": {"type": "text", "fontStyle": "italic", "fontSize": 22, "align": "left", "baseline": "middle", "color": "#000"},
       "encoding": {"x": {"field": "x", "type": "quantitative", "axis": null}, "y": {"field": "y", "type": "quantitative", "axis": null}, "text": {"field": "t"}}},
      {"data": {"name": "txt"}, "transform": [{"filter": "datum.p=='t' && datum.k=='ax'"}], "mark": {"type": "text", "fontSize": 22, "align": "left", "baseline": "middle", "color": "#000"},
       "encoding": {"x": {"field": "x", "type": "quantitative", "axis": null}, "y": {"field": "y", "type": "quantitative", "axis": null}, "text": {"field": "t"}}},
      {"data": {"name": "txt"}, "transform": [{"filter": "datum.p=='t' && datum.k=='smp'"}], "mark": {"type": "text", "fontSize": 23, "align": "center", "baseline": "middle", "color": "#000"},
       "encoding": {"x": {"field": "x", "type": "quantitative", "axis": null}, "y": {"field": "y", "type": "quantitative", "axis": null}, "text": {"field": "t"}}},
      {"data": {"name": "txt"}, "transform": [{"filter": "datum.p=='t' && datum.k=='mev'"}], "mark": {"type": "text", "fontSize": 18, "align": "center", "baseline": "middle", "color": "#1010ee"},
       "encoding": {"x": {"field": "x", "type": "quantitative", "axis": null}, "y": {"field": "y", "type": "quantitative", "axis": null}, "text": {"field": "t"}}},
      {"data": {"name": "txt"}, "transform": [{"filter": "datum.p=='t' && datum.k=='lab'"}], "mark": {"type": "text", "fontSize": 24, "fontWeight": "bold", "align": "center", "baseline": "middle", "color": "#000"},
       "encoding": {"x": {"field": "x", "type": "quantitative", "axis": null}, "y": {"field": "y", "type": "quantitative", "axis": null}, "text": {"field": "t"}}}
    ]
  },
  {
    "width": 495, "height": 203,
    "resolve": {"axis": {"x": "independent", "y": "independent"}},
    "layer": [
      {"data": {"name": "bars"}, "transform": [{"filter": "datum.p=='b'"}], "mark": {"type": "rect"},
       "encoding": {
         "x": {"field": "x1", "type": "quantitative", "scale": {"domain": [0.48, 0.6307], "nice": false, "zero": false},
               "axis": {"orient": "bottom", "title": "Relative Position (um)", "values": [0.48,0.50,0.52,0.54,0.56,0.58,0.60,0.62],
                        "labelExpr": "indexof([0.48,0.52,0.56,0.6], datum.value) >= 0 ? format(datum.value,'.2f') : ''", "labelPadding": 14, "titlePadding": -3,
                        "tickSize": {"condition": {"test": "indexof([0.48,0.52,0.56,0.6], datum.value) >= 0", "value": -8}, "value": -4}}},
         "x2": {"field": "x2"},
         "fill": {"field": "k", "type": "nominal", "scale": {"domain": ["g","b"], "range": ["#88f4a0","#79a8f0"]}, "legend": null}
       }},
      {"data": {"name": "bbLines"}, "mark": {"type": "line", "clip": true, "strokeWidth": 2.2},
       "encoding": {
         "x": {"field": "x", "type": "quantitative", "axis": null},
         "y": {"field": "y", "type": "quantitative", "scale": {"domain": [1.125, 4.30], "nice": false, "zero": false},
               "axis": {"orient": "left", "title": "Valence Band (eV)", "labelPadding": 16, "titlePadding": 14, "labelFontSize": 21, "tickSize": -8,
                        "values": [1.5,2.0,2.5,3.0,3.5,4.0], "format": ".1f"}},
         "color": {"field": "s", "type": "nominal", "scale": {"domain": ["Q","V"], "range": ["#000000","#ee1111"]},
                   "legend": {"title": null, "orient": "none", "legendX": 13, "legendY": 149, "padding": 0, "symbolType": "M-2,0H2", "symbolSize": 272, "symbolStrokeWidth": 2.2, "labelFontSize": 23, "labelOffset": 14, "rowPadding": 8, "labelExpr": "datum.label=='Q' ? 'Quasi-Fermi Level' : 'Valence band'"}},
         "strokeDash": {"field": "s", "type": "nominal", "scale": {"domain": ["Q","V"], "range": [[2.5,3],[1,0]]},
                   "legend": {"title": null, "orient": "none", "legendX": 13, "legendY": 149, "padding": 0, "symbolType": "M-2,0H2", "symbolSize": 272, "symbolStrokeWidth": 2.2, "labelFontSize": 23, "labelOffset": 14, "rowPadding": 8, "labelExpr": "datum.label=='Q' ? 'Quasi-Fermi Level' : 'Valence band'"}}
       }},
      {"data": {"name": "hl"}, "transform": [{"filter": "datum.p=='b'"}], "mark": {"type": "rule", "color": "#1010ee", "strokeWidth": 2},
       "encoding": {"x": {"field": "x1", "type": "quantitative", "axis": null}, "x2": {"field": "x2"}, "y": {"field": "y", "type": "quantitative", "axis": null}}},
      {"data": {"name": "va"}, "transform": [{"filter": "datum.p=='b'"}], "mark": {"type": "rule", "color": "#1010ee", "strokeWidth": 2},
       "encoding": {"x": {"field": "x", "type": "quantitative", "axis": null}, "y": {"field": "y", "type": "quantitative", "axis": null}, "y2": {"field": "y2"}}},
      {"data": {"name": "vh"}, "transform": [{"filter": "datum.p=='b' && datum.d=='up'"}], "mark": {"type": "point", "shape": "triangle-up", "filled": true, "color": "#1010ee", "size": 45, "opacity": 1, "yOffset": 4},
       "encoding": {"x": {"field": "x", "type": "quantitative", "axis": null}, "y": {"field": "y", "type": "quantitative", "axis": null}}},
      {"data": {"name": "vh"}, "transform": [{"filter": "datum.p=='b' && datum.d=='dn'"}], "mark": {"type": "point", "shape": "triangle-down", "filled": true, "color": "#1010ee", "size": 45, "opacity": 1, "yOffset": -4},
       "encoding": {"x": {"field": "x", "type": "quantitative", "axis": null}, "y": {"field": "y", "type": "quantitative", "axis": null}}},
      {"data": {"name": "arrows"}, "transform": [{"filter": "datum.p=='b'"}], "mark": {"type": "rule", "color": "#000", "strokeWidth": 1.5},
       "encoding": {"x": {"field": "x1", "type": "quantitative",
                          "axis": {"orient": "top", "title": null, "labels": false, "values": [0.48,0.50,0.52,0.54,0.56,0.58,0.60,0.62],
                                   "tickSize": {"condition": {"test": "indexof([0.48,0.52,0.56,0.6], datum.value) >= 0", "value": -8}, "value": -4}}},
                    "x2": {"field": "x2"},
                    "y": {"field": "y", "type": "quantitative",
                          "axis": {"orient": "right", "title": null, "labels": false, "values": [1.25,1.5,1.75,2.0,2.25,2.5,2.75,3.0,3.25,3.5,3.75,4.0,4.25],
                                   "tickSize": {"condition": {"test": "indexof([1.5,2,2.5,3,3.5,4], datum.value) >= 0", "value": -8}, "value": -4}}}}},
      {"data": {"name": "arrows"}, "transform": [{"filter": "datum.p=='b'"}], "mark": {"type": "point", "shape": "triangle-right", "filled": true, "color": "#000", "size": 60, "opacity": 1},
       "encoding": {"x": {"field": "x2", "type": "quantitative", "axis": null},
                    "y": {"field": "y", "type": "quantitative",
                          "axis": {"orient": "left", "title": null, "labels": false, "tickSize": -4, "values": [1.25,1.75,2.25,2.75,3.25,3.75,4.25]}}}},
      {"data": {"name": "txt"}, "transform": [{"filter": "datum.p=='b' && datum.k=='c'"}], "mark": {"type": "text", "fontStyle": "italic", "fontSize": 22, "align": "left", "baseline": "middle", "color": "#000"},
       "encoding": {"x": {"field": "x", "type": "quantitative", "axis": null}, "y": {"field": "y", "type": "quantitative", "axis": null}, "text": {"field": "t"}}},
      {"data": {"name": "txt"}, "transform": [{"filter": "datum.p=='b' && datum.k=='ax'"}], "mark": {"type": "text", "fontSize": 22, "align": "left", "baseline": "middle", "color": "#000"},
       "encoding": {"x": {"field": "x", "type": "quantitative", "axis": null}, "y": {"field": "y", "type": "quantitative", "axis": null}, "text": {"field": "t"}}},
      {"data": {"name": "txt"}, "transform": [{"filter": "datum.p=='b' && datum.k=='smp'"}], "mark": {"type": "text", "fontSize": 23, "align": "center", "baseline": "middle", "color": "#000"},
       "encoding": {"x": {"field": "x", "type": "quantitative", "axis": null}, "y": {"field": "y", "type": "quantitative", "axis": null}, "text": {"field": "t"}}},
      {"data": {"name": "txt"}, "transform": [{"filter": "datum.p=='b' && datum.k=='mev'"}], "mark": {"type": "text", "fontSize": 18, "align": "center", "baseline": "middle", "color": "#1010ee"},
       "encoding": {"x": {"field": "x", "type": "quantitative", "axis": null}, "y": {"field": "y", "type": "quantitative", "axis": null}, "text": {"field": "t"}}}
    ]
  }
]
}
